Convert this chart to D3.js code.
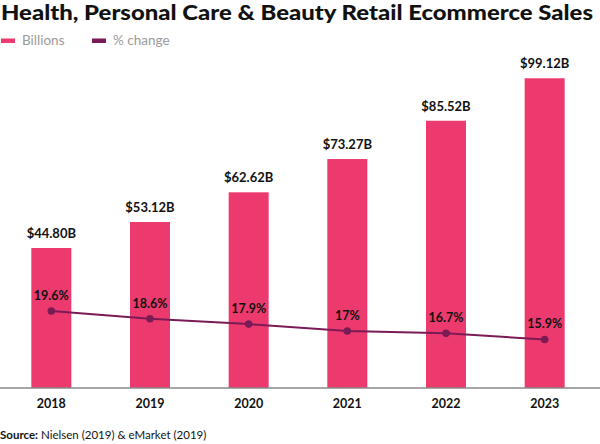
<!DOCTYPE html>
<meta charset="utf-8">
<style>
  body { margin: 0; background: #fff; }
  svg { font-family: "Lato", "Open Sans", sans-serif; }
</style>
<svg width="600" height="444"></svg>
<script src="https://cdn.jsdelivr.net/npm/d3@7"></script>
<script>
// chart data
var years = ["2018", "2019", "2020", "2021", "2022", "2023"];
var billions = [44.80, 53.12, 62.62, 73.27, 85.52, 99.12];
var pctChange = [19.6, 18.6, 17.9, 17, 16.7, 15.9];
var billionLabels = ["$44.80B", "$53.12B", "$62.62B", "$73.27B", "$85.52B", "$99.12B"];
var pctLabels = ["19.6%", "18.6%", "17.9%", "17%", "16.7%", "15.9%"];

var barColor = "#ec3a6e",
    lineColor = "#7b1b55";

var svg = d3.select("svg");

// scales
var x = d3.scaleBand().domain(years).range([2, 594]);
var y = d3.scaleLinear().domain([0, 100]).range([388, 75.5]);
var yPct = d3.scaleLinear().domain([0, 20]).range([461.5, 308]);
var barW = 40;

// title
svg.append("text")
    .attr("x", 1).attr("y", 20)
    .attr("font-size", 20).attr("font-weight", "900")
    .attr("fill", "#111")
    .attr("textLength", 592).attr("lengthAdjust", "spacingAndGlyphs")
    .text("Health, Personal Care & Beauty Retail Ecommerce Sales");

// legend
var legend = [{name: "Billions", color: barColor, x: 1}, {name: "% change", color: lineColor, x: 92}];
var lg = svg.selectAll(".lg").data(legend).enter().append("g")
    .attr("transform", function(d) { return "translate(" + d.x + ",0)"; });
lg.append("rect").attr("x", 0).attr("y", 38.5).attr("width", 14).attr("height", 4.5)
    .attr("fill", function(d) { return d.color; });
lg.append("text").attr("x", 21).attr("y", 44.5)
    .attr("font-size", 13.5).attr("fill", "#9a9a9a")
    .text(function(d) { return d.name; });

// bars
svg.append("g").selectAll("rect")
    .data(billions)
    .enter().append("rect")
      .attr("x", function(d, i) { return x(years[i]) + x.bandwidth() / 2 - barW / 2; })
      .attr("y", function(d) { return y(d); })
      .attr("width", barW)
      .attr("height", function(d) { return y(0) - y(d); })
      .attr("fill", barColor);

// bar labels
svg.append("g").selectAll("text")
    .data(billions)
    .enter().append("text")
      .attr("x", function(d, i) { return x(years[i]) + x.bandwidth() / 2; })
      .attr("y", function(d) { return y(d) - 10; })
      .attr("text-anchor", "middle")
      .attr("font-size", 13).attr("font-weight", "bold").attr("fill", "#111")
      .text(function(d, i) { return billionLabels[i]; });

// x axis
var xAxis = svg.append("g")
    .attr("transform", "translate(0,388)")
    .call(d3.axisBottom(x).tickSize(0).tickPadding(11));
xAxis.select(".domain").attr("d", "M0,0H600").attr("stroke", "#8a8a8a").attr("stroke-width", 1.5);
xAxis.selectAll(".tick text")
    .attr("font-family", "Lato, sans-serif")
    .attr("font-size", 12.5).attr("font-weight", "bold").attr("fill", "#111");

// % change line
var line = d3.line()
    .x(function(d, i) { return x(years[i]) + x.bandwidth() / 2; })
    .y(function(d) { return yPct(d); });

svg.append("path")
    .datum(pctChange)
    .attr("d", line)
    .attr("fill", "none")
    .attr("stroke", lineColor)
    .attr("stroke-width", 2);

svg.append("g").selectAll("circle")
    .data(pctChange)
    .enter().append("circle")
      .attr("cx", function(d, i) { return x(years[i]) + x.bandwidth() / 2; })
      .attr("cy", function(d) { return yPct(d); })
      .attr("r", 3.8)
      .attr("fill", lineColor);

svg.append("g").selectAll("text")
    .data(pctChange)
    .enter().append("text")
      .attr("x", function(d, i) { return x(years[i]) + x.bandwidth() / 2; })
      .attr("y", function(d) { return yPct(d) - 11; })
      .attr("text-anchor", "middle")
      .attr("font-size", 12.5).attr("font-weight", "bold").attr("fill", "#111")
      .text(function(d, i) { return pctLabels[i]; });

// source
var src = svg.append("text").attr("x", 0).attr("y", 439).attr("font-size", 11.5).attr("fill", "#111");
src.append("tspan").attr("font-weight", "bold").text("Source:");
src.append("tspan").text(" Nielsen (2019) & eMarket (2019)");
</script>
